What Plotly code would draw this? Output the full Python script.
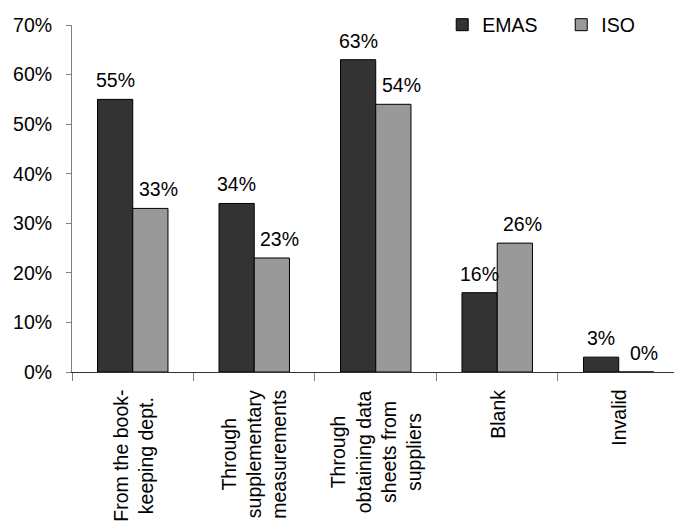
import plotly.graph_objects as go

# Survey results: how environmental data is obtained
categories = [
    "From the book-<br>keeping dept.",
    "Through<br>supplementary<br>measurements",
    "Through<br>obtaining data<br>sheets from<br>suppliers",
    "Blank",
    "Invalid",
]
emas = [55, 34, 63, 16, 3]
iso = [33, 23, 54, 26, 0]

FONT = "Liberation Sans, Arial, sans-serif"
SIZE = 19.5
keys = [f"c{i}" for i in range(len(categories))]

fig = go.Figure()
fig.add_trace(go.Bar(
    name="EMAS", x=keys, y=emas,
    marker=dict(color="#333333", line=dict(color="#000000", width=1)),
))
fig.add_trace(go.Bar(
    name="ISO", x=keys, y=iso,
    marker=dict(color="#999999", line=dict(color="#000000", width=1)),
))

half = 121.5 * 0.29 / 2  # half bar width in px
annotations = []
for k, v in zip(keys, emas):
    annotations.append(dict(x=k, y=v, xref="x", yref="y", text=f"{v}%",
                            showarrow=False, xanchor="center", yanchor="bottom",
                            xshift=-half, yshift=6,
                            font=dict(family=FONT, size=SIZE, color="#000")))
for k, v in zip(keys, iso):
    annotations.append(dict(x=k, y=v, xref="x", yref="y", text=f"{v}%",
                            showarrow=False, xanchor="center", yanchor="bottom",
                            xshift=half + 8, yshift=6,
                            font=dict(family=FONT, size=SIZE, color="#000")))
# category labels, rotated and centred line by line
for k, lab in zip(keys, categories):
    annotations.append(dict(x=k, y=0, xref="x", yref="paper", text=lab,
                            showarrow=False, textangle=-90, align="center",
                            xanchor="center", yanchor="top", yshift=-16,
                            font=dict(family=FONT, size=SIZE, color="#000")))

fig.update_layout(
    width=674, height=524,
    margin=dict(l=72, r=0, t=25, b=152, autoexpand=False),
    paper_bgcolor="white", plot_bgcolor="white",
    barmode="group", bargap=0.42, bargroupgap=0,
    font=dict(family=FONT, size=SIZE, color="#000"),
    showlegend=True,
    legend=dict(orientation="h", x=0.615, y=1.0, xanchor="left", yanchor="middle",
                entrywidth=74, entrywidthmode="pixels",
                font=dict(family=FONT, size=SIZE, color="#000"),
                bgcolor="rgba(0,0,0,0)"),
    annotations=annotations,
    xaxis=dict(type="category", range=[-0.5, 4.455], showticklabels=False,
               tickson="boundaries", ticks="outside", ticklen=8,
               tickcolor="#808080", tickwidth=1,
               showline=True, linecolor="#333333", linewidth=1,
               showgrid=False, zeroline=False, fixedrange=True),
    yaxis=dict(range=[0, 70], dtick=10, ticksuffix="%", ticks="outside",
               ticklen=5, tickcolor="#808080", showline=True,
               linecolor="#808080", linewidth=1, showgrid=False,
               zeroline=False, ticklabelstandoff=10,
               tickfont=dict(family=FONT, size=SIZE, color="#000"),
               fixedrange=True),
)

fig.write_html("out.html")
